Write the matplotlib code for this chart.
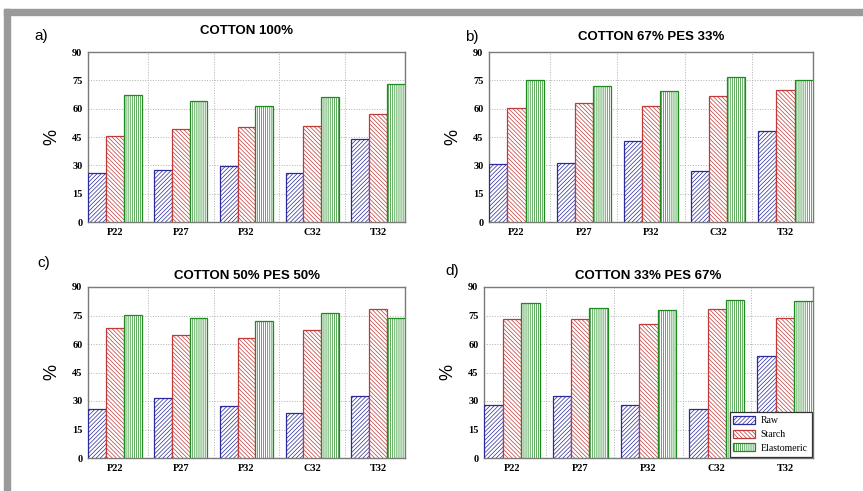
import numpy as np
import matplotlib
matplotlib.use('Agg')
import matplotlib.pyplot as plt
from matplotlib.patches import Rectangle

plt.rcParams['hatch.linewidth'] = 0.5

# yarns on the x axis
yarns = ['P22', 'P27', 'P32', 'C32', 'T32']
series = ['Raw', 'Starch', 'Elastomeric']

# values (%)
a_raw = [26.1, 27.7, 29.5, 26.1, 44.1]
a_starch = [45.5, 49.1, 50.1, 51.0, 57.0]
a_elast = [67.4, 64.1, 61.6, 66.4, 73.2]

b_raw = [30.5, 31.4, 42.9, 27.2, 48.0]
b_starch = [60.4, 63.0, 61.4, 66.7, 69.7]
b_elast = [75.4, 72.0, 69.4, 76.9, 75.4]

c_raw = [26.0, 31.6, 27.5, 23.7, 32.8]
c_starch = [68.2, 64.7, 63.3, 67.5, 78.6]
c_elast = [75.3, 73.9, 71.9, 76.1, 73.9]

d_raw = [27.9, 32.5, 28.1, 26.0, 53.9]
d_starch = [73.3, 73.3, 70.4, 78.6, 73.7]
d_elast = [81.4, 78.8, 77.9, 83.2, 82.5]

titles = ['COTTON 100%', 'COTTON 67% PES 33%', 'COTTON 50% PES 50%', 'COTTON 33% PES 67%']
letters = ['a)', 'b)', 'c)', 'd)']
panels = [(a_raw, a_starch, a_elast), (b_raw, b_starch, b_elast),
          (c_raw, c_starch, c_elast), (d_raw, d_starch, d_elast)]

edge_cols = ['#2a2a9a', '#c03a3a', '#1f8a1f']
hatches = ['////////', '\\\\\\\\\\\\\\\\', '||||||||']

W, H = 863, 491
fig = plt.figure(figsize=(W / 100, H / 100), dpi=100)

# gray frame (top and left)
fig.patches.append(Rectangle((4 / W, 1 - 15 / H), 1, 6 / H, transform=fig.transFigure,
                             color='#9a9a9a', zorder=0))
fig.patches.append(Rectangle((4 / W, 0), 6 / W, 1 - 9 / H, transform=fig.transFigure,
                             color='#9a9a9a', zorder=0))

# axes boxes in pixels: left, top, right, bottom
boxes = [(88, 52, 405, 222), (489, 52, 813, 222), (88, 287, 405, 458), (484, 287, 813, 458)]
letter_pos = [(34, 36), (465, 37), (37, 263), (445, 271)]
title_y = [31, 37, 276, 276]

x = np.arange(len(yarns))
bw = 0.27

for i, (vals, box) in enumerate(zip(panels, boxes)):
    l, t, r, b = box
    ax = fig.add_axes([l / W, 1 - b / H, (r - l) / W, (b - t) / H])
    for k, v in enumerate(vals):
        ax.bar(x + (k - 1) * bw, v, bw, facecolor='white', edgecolor=edge_cols[k],
               hatch=hatches[k], linewidth=0.9, label=series[k], zorder=3)
    ax.set_xlim(-0.41, 4.41)
    ax.set_ylim(0, 90)
    ax.set_yticks(np.arange(0, 91, 15))
    ax.set_xticks(x)
    ax.set_xticklabels(yarns)
    ax.set_xticks(np.arange(0.5, 4.0, 1.0), minor=True)
    ax.grid(True, axis='y', linestyle=':', color='#b0b0b0', linewidth=0.7, zorder=0)
    ax.grid(True, axis='x', which='minor', linestyle=':', color='#b0b0b0', linewidth=0.7, zorder=0)
    ax.tick_params(axis='both', which='both', length=0, pad=4)
    for lab in ax.get_xticklabels() + ax.get_yticklabels():
        lab.set_family('Liberation Serif')
        lab.set_fontsize(7.5)
        lab.set_fontweight('bold')
    for s in ax.spines.values():
        s.set_color('#7a7a7a')
        s.set_linewidth(1.0)
    fig.text((l + r) / 2 / W, 1 - title_y[i] / H, titles[i], ha='center', va='center',
             family='Liberation Sans', fontweight='bold', fontsize=9.5)
    lx, ly = letter_pos[i]
    fig.text(lx / W, 1 - ly / H, letters[i], ha='left', va='center',
             family='Liberation Sans', fontsize=11)
    fig.text((l - 36) / W, 1 - ((t + b) / 2) / H, '%', rotation=90, ha='center', va='center',
             family='Liberation Sans', fontsize=13)
    if i == 3:
        leg = ax.legend(loc='lower right', borderaxespad=0.15, fancybox=False,
                        framealpha=1, edgecolor='#333333',
                        prop={'family': 'Liberation Serif', 'size': 7},
                        handlelength=2.2, handleheight=0.9, labelspacing=0.45,
                        borderpad=0.4, handletextpad=0.6)
        leg.get_frame().set_linewidth(0.9)
        leg.set_zorder(5)

fig.savefig('out.png', dpi=100)
